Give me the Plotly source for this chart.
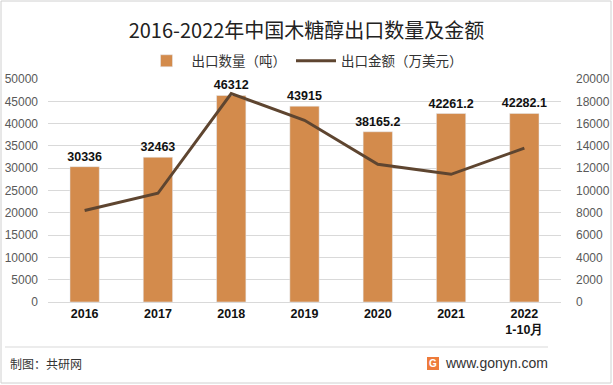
import plotly.graph_objects as go

categories = ["2016", "2017", "2018", "2019", "2020", "2021", "2022"]
tick_labels = ["2016", "2017", "2018", "2019", "2020", "2021", "2022<br>1-10月"]
volume = [30336, 32463, 46312, 43915, 38165.2, 42261.2, 42282.1]
value = [8200, 9750, 18700, 16300, 12350, 11450, 13800]
volume_labels = ["30336", "32463", "46312", "43915", "38165.2", "42261.2", "42282.1"]

W, H = 613, 385
L, R = 48, 561
T, B = 79, 302

def px(x):
    return (x - L) / (R - L)

def py(y):
    return (B - y) / (B - T)

font_fam = "Noto Sans CJK SC, DejaVu Sans, sans-serif"
num_fam = "Liberation Sans, Arial, sans-serif"
fig = go.Figure()
fig.add_trace(go.Bar(
    x=categories, y=volume, name="出口数量（吨）",
    marker_color="#D38B4C", width=0.4,
    text=["<b>%s</b>" % s for s in volume_labels], textposition="outside", constraintext="none",
    textfont=dict(size=12.5, color="#111111", family=num_fam),
    cliponaxis=False,
))
fig.add_trace(go.Scatter(
    x=categories, y=value, name="出口金额（万美元）", yaxis="y2",
    mode="lines", line=dict(color="#5E4530", width=3),
))

fig.update_layout(
    width=W, height=H,
    margin=dict(l=L, r=W - R, t=T, b=H - B, autoexpand=False),
    paper_bgcolor="white", plot_bgcolor="white",
    font=dict(family=font_fam, color="#404040"),
    title=dict(text="2016-2022年中国木糖醇出口数量及金额", x=0.5, xanchor="center",
               y=1 - 31 / H, yanchor="middle",
               font=dict(size=20, color="#222222", family=font_fam)),
    legend=dict(orientation="h", x=0.5, xanchor="center", y=py(61), yanchor="middle",
                font=dict(size=13.5, color="#333333"), itemwidth=40, traceorder="normal",
                bgcolor="rgba(0,0,0,0)"),
    xaxis=dict(tickmode="array", tickvals=categories, ticktext=["<b>%s</b>" % t for t in tick_labels],
               tickfont=dict(size=12.5, color="#111111", family=num_fam),
               showgrid=False, showline=True, linecolor="#d9d9d9", ticks=""),
    yaxis=dict(range=[0, 50000], dtick=5000, showgrid=True, gridcolor="#d9d9d9",
               tickformat="d",
               tickfont=dict(size=12, color="#595959", family=num_fam),
               zeroline=False, ticks="", ticklabelstandoff=9),
    yaxis2=dict(range=[0, 20000], dtick=2000, overlaying="y", side="right",
                showgrid=False, zeroline=False, tickformat="d",
                tickfont=dict(size=12, color="#595959", family=num_fam),
                ticks="", ticklabelstandoff=14),
    bargap=0.6,
    showlegend=True,
)

shapes = [
    dict(type="rect", xref="paper", yref="paper", x0=px(1), x1=px(611), y0=py(383), y1=py(1),
         line=dict(color="#d0d0d0", width=1)),
    dict(type="line", xref="paper", yref="paper", x0=px(5), x1=px(548), y0=py(347), y1=py(347),
         line=dict(color="#d9d9d9", width=1)),
    dict(type="rect", xref="paper", yref="paper", x0=px(427), x1=px(439), y0=py(370), y1=py(357),
         line=dict(width=0), fillcolor="#EE7B3A"),
]
fig.update_layout(shapes=shapes)

fig.add_annotation(text="制图：共研网", xref="paper", yref="paper", x=px(8), y=py(363),
                   xanchor="left", yanchor="middle", showarrow=False,
                   font=dict(size=12, color="#333333"))
fig.add_annotation(text="www.gonyn.com", xref="paper", yref="paper", x=px(550), y=py(363),
                   xanchor="right", yanchor="middle", showarrow=False,
                   font=dict(size=14, color="#333333", family=num_fam))
fig.add_annotation(text="<b>G</b>", xref="paper", yref="paper", x=px(433), y=py(363.5),
                   xanchor="center", yanchor="middle", showarrow=False,
                   font=dict(size=10, color="white", family=num_fam))

fig.write_html("out.html", config={"displayModeBar": False},
               post_script="document.body.style.margin='0';document.body.style.overflow='hidden';")
